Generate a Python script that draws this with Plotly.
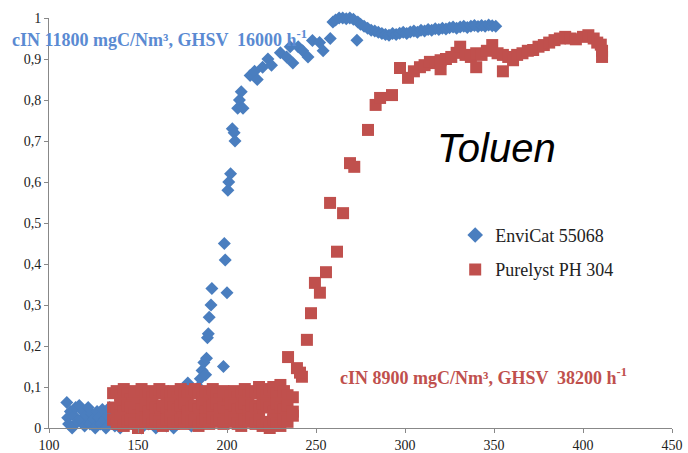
import plotly.graph_objects as go

# ---------------- data ----------------
blue_x = [110, 110.5, 111, 112, 113, 114, 115, 116, 117, 118, 119, 120, 121, 122, 123, 124, 125, 126, 127, 128,
          129, 130, 131, 132, 133, 134, 135, 137, 140, 143, 148, 152, 156, 160, 163, 166, 170, 172, 176, 178,
          180, 182, 183, 184, 185, 186, 187, 188, 188.5, 189, 189.5, 190, 191, 191.5, 198, 198.5, 199, 200,
          200.5, 201, 202, 203, 204, 204.5, 206, 207, 208, 209, 213, 215.5, 217, 220, 223, 225, 230, 233.5,
          235.5, 237, 240, 242.5, 245.5, 248, 252, 254, 258, 259.5, 261, 263, 265, 267, 269, 271, 273, 273.5,
          275, 277, 279, 281, 283, 285, 287, 289, 291, 293, 295, 297, 299, 301, 303, 305, 307, 309, 311, 313,
          315, 317, 319, 321, 323, 325, 327, 329, 331, 333, 335, 337, 339, 341, 343, 345, 347, 349, 351]
blue_y = [0.062, 0.025, 0.01, 0.04, 0.0, 0.03, 0.05, 0.015, 0.055, 0.02, 0.04, 0.005, 0.03, 0.05, 0.01, 0.035,
          0.02, 0.0, 0.04, 0.025, 0.01, 0.045, 0.02, 0.0, 0.03, 0.05, 0.015, 0.005, 0.0, 0.01, 0.005, 0.0, 0.01,
          0.0, 0.015, 0.005, 0.0, 0.01, 0.02, 0.11, 0.005, 0.09, 0.02, 0.1, 0.12, 0.14, 0.16, 0.13, 0.17, 0.22,
          0.23, 0.27, 0.3, 0.34, 0.15, 0.45, 0.41, 0.33, 0.58, 0.6, 0.62, 0.73, 0.72, 0.70, 0.78, 0.80, 0.82,
          0.78, 0.86, 0.87, 0.85, 0.88, 0.90, 0.885, 0.915, 0.905, 0.93, 0.89, 0.93, 0.92, 0.905, 0.945, 0.94,
          0.92, 0.95, 0.99, 0.995, 1.0, 1.0, 0.998, 1.0, 0.997, 0.946, 0.99, 0.985, 0.98, 0.975, 0.97, 0.968,
          0.965, 0.962, 0.96, 0.958, 0.962, 0.96, 0.963, 0.965, 0.962, 0.966, 0.968, 0.965, 0.97, 0.968, 0.972,
          0.97, 0.974, 0.972, 0.975, 0.973, 0.976, 0.978, 0.975, 0.978, 0.98, 0.977, 0.98, 0.982, 0.979, 0.982,
          0.98, 0.983, 0.981, 0.98]

# red: low plateau columns (three readings per column), then breakthrough
red_cols = [136, 138, 140, 142, 144, 146, 148, 150, 152, 154, 156, 158, 160, 162, 164, 166, 168, 170, 172, 174,
            176, 178, 180, 182, 184, 186, 188, 190, 192, 194, 196, 198, 200, 202, 204, 206, 208, 210, 212, 214,
            216, 218, 220, 222, 224, 226, 228, 230, 232, 234, 237]
red_hi = [0.085, 0.09, 0.08, 0.095, 0.085, 0.07, 0.09, 0.085, 0.095, 0.08,
          0.09, 0.075, 0.085, 0.095, 0.09, 0.08, 0.085, 0.09, 0.075, 0.095,
          0.085, 0.08, 0.09, 0.095, 0.085, 0.075, 0.09, 0.08, 0.095, 0.085,
          0.07, 0.09, 0.085, 0.08, 0.09, 0.075, 0.085, 0.095, 0.08, 0.09,
          0.085, 0.1, 0.09, 0.08, 0.095, 0.1, 0.085, 0.105, 0.09, 0.08, 0.075]
red_mid = [0.05, 0.045, 0.06, 0.04, 0.055, 0.05, 0.035, 0.06, 0.045, 0.055,
           0.04, 0.06, 0.05, 0.045, 0.055, 0.035, 0.06, 0.05, 0.045, 0.055,
           0.06, 0.04, 0.05, 0.055, 0.045, 0.06, 0.04, 0.05, 0.055, 0.06,
           0.045, 0.05, 0.04, 0.06, 0.055, 0.045, 0.05, 0.06, 0.04, 0.055,
           0.05, 0.045, 0.06, 0.055, 0.05, 0.04, 0.06, 0.05, 0.045, 0.055, 0.04]
red_lo = [0.02, 0.01, 0.025, 0.005, 0.015, 0.02, 0.01, 0.0, 0.02, 0.015,
          0.025, 0.01, 0.02, 0.015, 0.005, 0.02, 0.025, 0.01, 0.015, 0.02,
          0.01, 0.025, 0.015, 0.02, 0.005, 0.015, 0.02, 0.01, 0.025, 0.015,
          0.02, 0.01, 0.015, 0.025, 0.02, 0.01, 0.005, 0.02, 0.015, 0.025,
          0.01, 0.02, 0.005, 0.015, 0.0, 0.02, 0.01, 0.005, 0.02, 0.015, 0.03]
red_rise_x = [234.3, 239.3, 242.1, 241, 244.9, 247.2, 249.4, 252.2, 255.6, 257.9, 261.8, 265.2, 269.1, 271.5,
              279.2, 283.5, 286, 292.7, 297.2, 301.7, 305, 308.4, 311, 314, 317, 320, 320, 323, 326, 329, 331,
              334, 337, 340, 340, 343, 346, 349, 352, 355, 355, 358, 360.7, 363, 366, 369, 372, 375, 378, 381,
              384, 387, 390, 393, 396, 400, 403, 406, 408, 410, 410.7, 410.7]
red_rise_y = [0.173, 0.146, 0.125, 0.135, 0.215, 0.28, 0.354, 0.33, 0.38, 0.549, 0.43, 0.524, 0.646, 0.637,
              0.727, 0.788, 0.805, 0.812, 0.878, 0.854, 0.87, 0.88, 0.885, 0.893, 0.89, 0.897, 0.875, 0.9,
              0.905, 0.915, 0.93, 0.91, 0.905, 0.914, 0.88, 0.91, 0.92, 0.934, 0.914, 0.91, 0.87, 0.905, 0.897,
              0.91, 0.914, 0.92, 0.922, 0.93, 0.934, 0.94, 0.946, 0.95, 0.954, 0.95, 0.948, 0.954, 0.958, 0.95,
              0.94, 0.935, 0.92, 0.905]

y_ticks = [0, 0.1, 0.2, 0.3, 0.4, 0.5, 0.6, 0.7, 0.8, 0.9, 1]
y_tick_text = ["0", "0,1", "0,2", "0,3", "0,4", "0,5", "0,6", "0,7", "0,8", "0,9", "1"]
x_ticks = [100, 150, 200, 250, 300, 350, 400, 450]

names = ["EnviCat 55068", "Purelyst PH 304"]
BLUE = "#4a7ebf"
RED = "#c0504d"

red_x = red_cols * 3 + red_rise_x
red_y = red_hi + red_mid + red_lo + red_rise_y

fig = go.Figure()
fig.add_trace(go.Scatter(x=blue_x, y=blue_y, mode="markers", name=names[0], legendgroup="a",
                         cliponaxis=False,
                         marker=dict(symbol="diamond", size=10, color=BLUE)))
fig.add_trace(go.Scatter(x=red_x, y=red_y, mode="markers", name=names[1], legendgroup="b",
                         cliponaxis=False,
                         marker=dict(symbol="square", size=12, color=RED)))

fig.update_layout(
    width=688, height=453,
    margin=dict(l=49, r=16, t=18, b=25),
    paper_bgcolor="white", plot_bgcolor="white",
    font=dict(family="Liberation Serif", size=14, color="#222"),
    showlegend=True,
    legend=dict(x=0.652, y=0.515, xanchor="left", yanchor="top", bgcolor="rgba(0,0,0,0)",
                font=dict(family="Liberation Serif", size=18, color="#222"),
                tracegroupgap=8, itemsizing="constant"),
    xaxis=dict(range=[100, 450], tickvals=x_ticks, showgrid=False, zeroline=False, automargin=False,
               showline=True, linecolor="#888", linewidth=1, ticks="outside", ticklen=4,
               tickcolor="#888", tickfont=dict(size=14)),
    yaxis=dict(range=[0, 1], tickvals=y_ticks, ticktext=y_tick_text, showgrid=False, zeroline=False,
               automargin=False,
               showline=True, linecolor="#888", linewidth=1, ticks="outside", ticklen=4,
               tickcolor="#888", tickfont=dict(size=14)),
    annotations=[
        dict(text="<b>cIN 11800 mgC/Nm³, GHSV  16000 h<sup>-1</sup></b>", xref="paper", yref="paper",
             x=-0.0626, y=0.95, xanchor="left", yanchor="middle", showarrow=False,
             font=dict(family="Liberation Serif", size=18, color="#5a8ad2")),
        dict(text="<b>cIN 8900 mgC/Nm³, GHSV  38200 h<sup>-1</sup></b>", xref="paper", yref="paper",
             x=0.464, y=0.125, xanchor="left", yanchor="middle", showarrow=False,
             font=dict(family="Liberation Serif", size=18, color="#c0504d")),
        dict(text="<i>Toluen</i>", xref="paper", yref="paper", x=0.719, y=0.683,
             xanchor="center", yanchor="middle", showarrow=False,
             font=dict(family="Liberation Sans", size=40, color="black")),
    ],
)

fig.write_html("out.html")
